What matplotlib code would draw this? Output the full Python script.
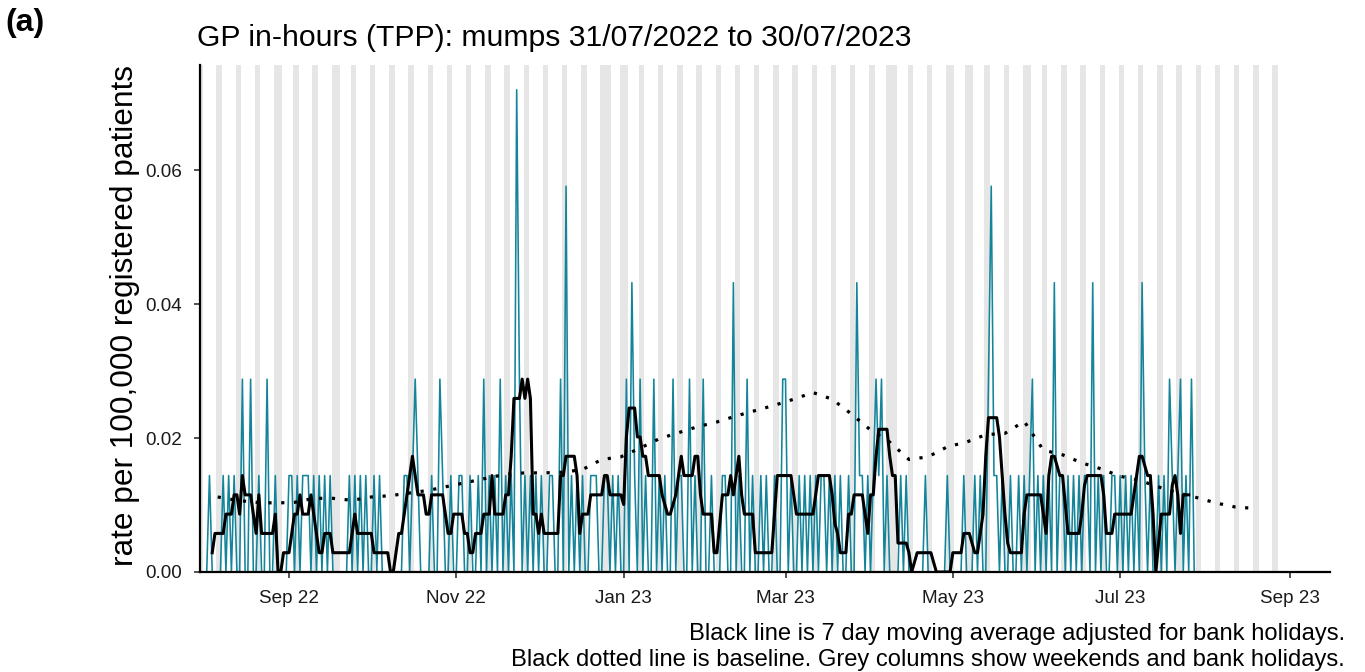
import datetime as dt
import numpy as np
import matplotlib
matplotlib.use("Agg")
import matplotlib.pyplot as plt
import matplotlib.dates as mdates

plt.rcParams['font.family'] = ['Liberation Sans', 'DejaVu Sans']

# ---------------- data ----------------
START = dt.date(2022, 7, 31)          # first day (Sunday)
N_DAYS = 365
RATE_PER_CASE = 0.0144                # rate per 100,000 for one consultation
MA_UNIT = RATE_PER_CASE / 5           # 7-day (5 weekday) moving-average step

# daily consultations, one row per week (Sun..Sat)
counts_q1 = [
    [0, 0, 0, 1, 0, 0, 0], [0, 1, 0, 1, 0, 1, 0], [0, 2, 0, 0, 2, 0, 0], [1, 0, 0, 2, 0, 0, 1],
    [0, 0, 0, 0, 1, 1, 0], [1, 0, 1, 1, 1, 0, 1], [0, 1, 0, 1, 0, 1, 0], [0, 0, 0, 0, 0, 1, 0],
    [1, 0, 1, 0, 1, 0, 0], [1, 0, 1, 0, 0, 0, 0], [0, 0, 0, 0, 1, 1, 0], [1, 2, 1, 0, 0, 0, 0],
    [1, 0, 0, 2, 1, 0, 0],
]
counts_q2 = [
    [1, 0, 0, 1, 1, 0, 0], [1, 0, 0, 1, 0, 2, 0], [1, 0, 1, 0, 2, 0, 1], [0, 1, 0, 5, 2, 0, 1],
    [0, 1, 0, 1, 0, 1, 0], [0, 1, 1, 0, 0, 2, 0], [4, 0, 1, 0, 1, 0, 1], [0, 0, 1, 1, 1, 0, 0],
    [1, 1, 0, 1, 0, 1, 0], [0, 2, 0, 3, 1, 0, 2], [0, 1, 0, 0, 2, 0, 1], [0, 1, 0, 0, 2, 0, 1],
    [1, 0, 0, 2, 0, 1, 0],
]
counts_q3 = [
    [0, 2, 0, 0, 1, 0, 0], [0, 1, 1, 0, 0, 3, 0], [1, 0, 0, 2, 0, 1, 0], [0, 1, 0, 1, 0, 0, 1],
    [0, 0, 2, 2, 0, 1, 0], [0, 1, 0, 1, 0, 1, 0], [1, 0, 1, 1, 0, 1, 0], [1, 0, 1, 0, 0, 1, 0],
    [0, 3, 1, 1, 0, 1, 0], [1, 2, 1, 2, 0, 1, 0], [0, 0, 0, 1, 0, 1, 0], [0, 0, 0, 0, 0, 1, 0],
    [0, 0, 0, 0, 0, 0, 1],
]
counts_q4 = [
    [0, 0, 0, 0, 0, 1, 0], [0, 0, 1, 0, 1, 0, 0], [2, 4, 1, 1, 0, 1, 0], [0, 1, 0, 0, 1, 0, 1],
    [0, 1, 2, 0, 1, 0, 1], [0, 1, 0, 3, 0, 1, 1], [0, 1, 0, 1, 0, 1, 0], [1, 1, 0, 3, 0, 1, 0],
    [1, 0, 0, 1, 1, 0, 1], [0, 1, 0, 1, 0, 1, 0], [3, 1, 0, 1, 0, 0, 1], [0, 1, 0, 2, 1, 0, 1],
    [2, 0, 1, 0, 2, 0, 0], [0],
]

# 7 day moving average, in units of MA_UNIT, one row per week (Sun..Sat)
nan = np.nan
ma_q1 = [
    [nan, nan, nan, nan, 1, 2, 2], [2, 2, 3, 3, 3, 4, 4], [3, 5, 4, 4, 4, 3, 2], [4, 2, 2, 2, 2, 2, 3],
    [0, 0, 1, 1, 1, 2, 3], [3, 4, 3, 3, 3, 4, 3], [2, 1, 1, 2, 2, 2, 1], [1, 1, 1, 1, 1, 1, 2],
    [3, 2, 2, 2, 2, 2, 2], [1, 1, 1, 1, 1, 1, 0], [0, 1, 2, 2, 3, 4, 5], [6, 5, 4, 4, 4, 3, 3],
    [4, 4, 4, 4, 4, 3, 2],
]
ma_q2 = [
    [2, 3, 3, 3, 3, 2, 2], [1, 1, 2, 2, 2, 3, 3], [3, 5, 3, 3, 3, 3, 4], [4, 6, 9, 9, 9, 10, 9],
    [10, 9, 3, 3, 2, 3, 2], [2, 2, 2, 2, 2, 5, 5], [6, 6, 6, 6, 5, 2, 3], [3, 3, 4, 4, 4, 4, 4],
    [5, 5, 4, 4, 4, 4, 4], [3.5, 7, 8.5, 8.5, 8.5, 7, 7], [6, 6, 5, 5, 5, 5, 5], [4, 3.5, 3, 3, 3.5, 4, 5],
    [6, 5, 5, 5, 5, 6, 6],
]
ma_q3 = [
    [4, 3, 3, 3, 3, 1, 1], [2.5, 4, 4, 4, 5, 4, 5], [6, 4, 3, 3, 3, 3, 1], [1, 1, 1, 1, 1, 1, 3],
    [5, 5, 5, 5, 5, 5, 4], [3, 3, 3, 3, 3, 3, 3], [4, 5, 5, 5, 5, 5, 4], [2.5, 2, 1, 1, 1, 3, 3],
    [4, 4, 4, 4, 3, 2, 4], [4, 6, 7.4, 7.4, 7.4, 7.4, 6], [5, 5, 1.5, 1.5, 1.5, 1.5, 1], [0, 0.5, 1, 1, 1, 1, 1],
    [1, 0.5, 0, 0, 0, 0, 0],
]
ma_q4 = [
    [0, 1, 1, 1, 1, 2, 2], [2, 1.5, 1, 1, 2, 3, 6], [8, 8, 8, 8, 7, 5, 3], [1.5, 1, 1, 1, 1, 1, 3],
    [4, 4, 4, 4, 4, 4, 3], [2, 5, 6, 6, 5.5, 5, 5], [3.5, 2, 2, 2, 2, 2, 3], [4.5, 5, 5, 5, 5, 5, 5],
    [4, 2, 2, 2, 3, 3, 3], [3, 3, 3, 3, 4, 5, 6], [6, 5.5, 5, 5, 3, 0, 1.5], [3, 3, 3, 3, 4.5, 5, 4],
    [2, 4, 4, 4, nan, nan, nan], [nan],
]

# weekly baseline (first value on 6 Aug 2022, then every 7 days)
BASELINE_START = dt.date(2022, 8, 6)
baseline = [0.0112, 0.0107, 0.0104, 0.0103, 0.0104, 0.0110, 0.0110, 0.0107, 0.0112, 0.0114,
            0.0118, 0.0122, 0.0128, 0.0134, 0.0140, 0.0146, 0.0148, 0.0148, 0.0149, 0.0153,
            0.0168, 0.0172, 0.0185, 0.0199, 0.0208, 0.0217, 0.0224, 0.0233, 0.0241, 0.0249,
            0.0258, 0.0268, 0.0258, 0.0236, 0.0212, 0.0194, 0.0168, 0.0172, 0.0187, 0.0194,
            0.0205, 0.0207, 0.0225, 0.0182, 0.0175, 0.0163, 0.0154, 0.0143, 0.0137, 0.0127,
            0.0118, 0.0111, 0.0103, 0.0097, 0.0095]

bank_holidays = [dt.date(2022, 8, 29), dt.date(2022, 9, 19), dt.date(2022, 12, 26),
                 dt.date(2022, 12, 27), dt.date(2023, 1, 2), dt.date(2023, 4, 7),
                 dt.date(2023, 4, 10), dt.date(2023, 5, 1), dt.date(2023, 5, 8),
                 dt.date(2023, 5, 29)]
SHADE_END = dt.date(2023, 8, 27)

title = "GP in-hours (TPP): mumps 31/07/2022 to 30/07/2023"
ylabel = "rate per 100,000 registered patients"
caption1 = "Black line is 7 day moving average adjusted for bank holidays."
caption2 = "Black dotted line is baseline. Grey columns show weekends and bank holidays."

# ---------------- build series ----------------
def flat(blocks):
    out = []
    for b in blocks:
        for w in b:
            out.extend(w)
    return np.array(out, dtype=float)

counts = flat([counts_q1, counts_q2, counts_q3, counts_q4])
ma = flat([ma_q1, ma_q2, ma_q3, ma_q4])
days = [START + dt.timedelta(days=i) for i in range(N_DAYS)]
x = mdates.date2num(days)
daily_rate = counts * RATE_PER_CASE
ma_rate = ma * MA_UNIT
bx = mdates.date2num([BASELINE_START + dt.timedelta(days=7 * i) for i in range(len(baseline))])

# ---------------- figure ----------------
W, H = 1365, 672
fig = plt.figure(figsize=(W / 100, H / 100), dpi=100)
ax = fig.add_axes([200 / W, 1 - 572 / H, 1130 / W, 507 / H])

ymax = 0.0757
# grey columns
d = dt.date(2022, 7, 30)
while d <= SHADE_END:
    if d.weekday() >= 5 or d in bank_holidays:
        c = mdates.date2num(d)
        ax.axvspan(c - 0.5, c + 0.5, color="#E6E6E6", lw=0, zorder=0)
    d += dt.timedelta(days=1)

ax.plot(x, daily_rate, color="#13849A", lw=1.15, zorder=2)
ax.plot(x, ma_rate, color="black", lw=2.2, zorder=3, solid_joinstyle='round')
ax.plot(bx, baseline, color="black", lw=2.3, linestyle=(0, (1.0, 3.0)), zorder=4)

ax.set_xlim(mdates.date2num(dt.date(2022, 7, 31)) - 0.45, mdates.date2num(dt.date(2022, 7, 31)) + 411.5)
ax.set_ylim(0, ymax)
ax.set_yticks([0.0, 0.02, 0.04, 0.06])
ax.set_yticklabels(["0.00", "0.02", "0.04", "0.06"])
ax.xaxis.set_major_locator(mdates.MonthLocator(bymonth=[1, 3, 5, 7, 9, 11]))
ax.xaxis.set_major_formatter(mdates.DateFormatter("%b %y"))

for s in ["top", "right"]:
    ax.spines[s].set_visible(False)
for s in ["left", "bottom"]:
    ax.spines[s].set_linewidth(1.6)
    ax.spines[s].set_color("black")
ax.tick_params(axis="both", length=4, width=1.2, color="#333333", labelsize=13.6,
               labelcolor="#1a1a1a")
ax.tick_params(axis="x", pad=9)
ax.tick_params(axis="y", pad=9)

fig.text(125 / W, 1 - 316 / H, ylabel, rotation=90, ha="center", va="center", fontsize=22.8)
fig.text(197 / W, 1 - 46 / H, title, ha="left", va="baseline", fontsize=21.7)
fig.text(5 / W, 1 - 31 / H, "(a)", ha="left", va="baseline", fontsize=23, fontweight="bold")
fig.text(1345 / W, 1 - 640 / H, caption1, ha="right", va="baseline", fontsize=17.1)
fig.text(1345 / W, 1 - 666 / H, caption2, ha="right", va="baseline", fontsize=17.1)

fig.savefig("out.png", dpi=100)
